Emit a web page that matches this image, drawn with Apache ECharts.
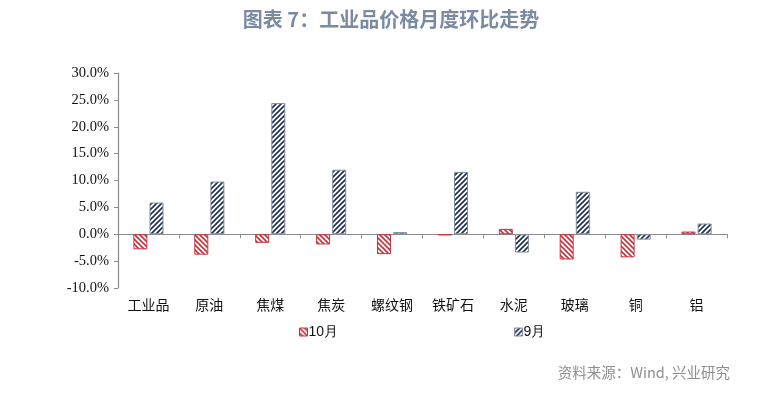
<!DOCTYPE html>
<html><head><meta charset="utf-8">
<script src="https://cdn.jsdelivr.net/npm/echarts@6/dist/echarts.min.js"></script>
<style>html,body{margin:0;padding:0;background:#fff}#c{width:782px;height:393px}</style>
</head><body><div id="c"></div>
<script>
const categories = ['工业品','原油','焦煤','焦炭','螺纹钢','铁矿石','水泥','玻璃','铜','铝'];
const octValues = [-2.8,-3.8,-1.6,-1.9,-3.7,-0.2,1.0,-4.7,-4.3,0.5];
const sepValues = [5.9,9.8,24.4,12.0,0.4,11.6,-3.4,7.9,-1.0,2.0];
const seriesNames = ['10月','9月'];
const yTicks = {min:-10, max:30, interval:5};

function pattern(lineColor, dir){
  const s = 5;
  const c = document.createElement('canvas');
  c.width = s; c.height = s;
  const g = c.getContext('2d');
  g.fillStyle = '#fff'; g.fillRect(0,0,s,s);
  g.strokeStyle = lineColor; g.lineWidth = 1.6;
  g.beginPath();
  if(dir === '\\'){
    g.moveTo(-1,-1); g.lineTo(s+1,s+1);
    g.moveTo(-1-s,-1); g.lineTo(1,s+1);
    g.moveTo(s-1,-1); g.lineTo(2*s+1,s+1);
  } else {
    g.moveTo(-1,s+1); g.lineTo(s+1,-1);
    g.moveTo(-1-s,s+1); g.lineTo(1,-1);
    g.moveTo(s-1,s+1); g.lineTo(2*s+1,-1);
  }
  g.stroke();
  return {image:c, repeat:'repeat'};
}
const redPat = pattern('#c8323c','\\');
const bluePat = pattern('#1f2f52','/');

const chart = echarts.init(document.getElementById('c'));
chart.setOption({
  animation:false,
  title:{text:'图表 7：工业品价格月度环比走势', left:'center', top:4,
    textStyle:{color:'#7b8aa3', fontSize:20, fontWeight:'bold', fontFamily:'Noto Sans CJK SC'}},
  graphic:[{type:'text', right:52, top:365, style:{text:'资料来源：Wind, 兴业研究', fill:'#8f8f8f', fontSize:14.5, fontFamily:'Noto Sans CJK SC'}}],
  legend:{top:320, left:294, itemGap:176, itemWidth:8, itemHeight:8, icon:'rect',
    textStyle:{fontSize:14, color:'#111', fontFamily:'Liberation Sans', padding:[0,0,0,-4]},
    data:[{name:seriesNames[0], itemStyle:{color:redPat, borderColor:'#c8323c', borderWidth:1}},
          {name:seriesNames[1], itemStyle:{color:bluePat, borderColor:'#7f8ba3', borderWidth:1}}]},
  grid:{left:118, right:55, top:73, bottom:105},
  xAxis:[
    {type:'category', data:categories, position:'bottom',
      axisLine:{onZero:true, lineStyle:{color:'#8c8c8c', width:1.2}},
      axisTick:{show:true, inside:false, length:4, lineStyle:{color:'#8c8c8c'}},
      axisLabel:{show:false}},
    {type:'category', data:categories, position:'bottom',
      axisLine:{show:false, onZero:false}, axisTick:{show:false},
      axisLabel:{show:true, margin:10, color:'#111', fontSize:14, fontFamily:'Noto Sans CJK SC'}}
  ],
  yAxis:{type:'value', min:yTicks.min, max:yTicks.max, interval:yTicks.interval,
    splitLine:{show:false},
    axisLine:{show:true, lineStyle:{color:'#8c8c8c', width:1.2}},
    axisTick:{show:true, length:4, lineStyle:{color:'#8c8c8c'}},
    axisLabel:{formatter:v=>v.toFixed(1)+'%', color:'#111', fontSize:14.5, fontFamily:'Liberation Serif', margin:9}},
  series:[
    {name:seriesNames[0], type:'bar', xAxisIndex:0, data:octValues, barWidth:14, barGap:'15%',
      itemStyle:{color:redPat, borderColor:'#c8323c', borderWidth:1}},
    {name:seriesNames[1], type:'bar', xAxisIndex:0, data:sepValues, barWidth:14,
      itemStyle:{color:bluePat, borderColor:'#7f8ba3', borderWidth:1}}
  ]
});
</script></body></html>
